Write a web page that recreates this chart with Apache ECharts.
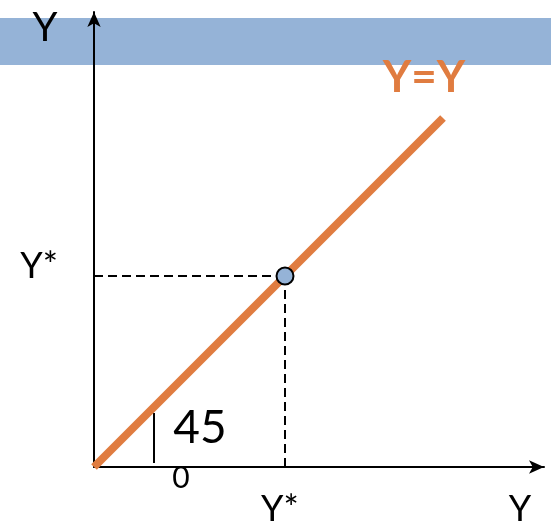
<!DOCTYPE html>
<html>
<head>
<meta charset="utf-8">
<script src="https://cdn.jsdelivr.net/npm/echarts@6/dist/echarts.min.js"></script>
<style>
  html, body { margin: 0; padding: 0; background: #ffffff; }
  #chart { width: 551px; height: 522px; }
</style>
</head>
<body>
<div id="chart"></div>
<script>
// ---- data ----
const axisTitle = 'Y';
const equilibriumLabel = 'Y*';
const lineLabel = 'Y=Y';
const angleText = '45';
const degreeText = '0';
const lineX = [0, 349];
const lineY = [0, 349];
const equilibriumX = [191];
const equilibriumY = [191];
const angleTickX = [60, 60];
const angleTickY = [4, 54];
const axisMaxX = [450];
const axisMaxY = [455];

const ORANGE = '#E07C40';
const BLUE = '#95B3D7';
const FONT = 'Lato, "Open Sans", sans-serif';

const chart = echarts.init(document.getElementById('chart'));

const linePoints = lineX.map((x, i) => [x, lineY[i]]);
const eqPoints = equilibriumX.map((x, i) => [x, equilibriumY[i]]);
const ex = equilibriumX[0], ey = equilibriumY[0];

chart.setOption({
  animation: false,
  backgroundColor: '#ffffff',
  graphic: [
    { type: 'rect', left: 0, top: 18, z: -10, silent: true,
      shape: { width: 551, height: 47 }, style: { fill: BLUE } }
  ],
  grid: { left: 94, right: 7, top: 12, bottom: 55, outerBoundsMode: 'none' },
  xAxis: {
    type: 'value', min: 0, max: axisMaxX[0], z: 2,
    name: axisTitle, nameLocation: 'end', nameGap: -24,
    nameTextStyle: { fontFamily: FONT, fontSize: 36, color: '#000', align: 'center', verticalAlign: 'top', padding: [24, 0, 0, 0] },
    axisLine: { show: true, onZero: false, symbol: ['none', 'arrow'], symbolSize: [10, 15], lineStyle: { color: '#000', width: 2 } },
    axisTick: { show: false },
    splitLine: { show: false },
    axisLabel: {
      show: true, customValues: equilibriumX, formatter: () => equilibriumLabel,
      fontFamily: FONT, fontSize: 36, color: '#000', margin: 0,
      verticalAlign: 'top', padding: [24, 10, 0, 0]
    }
  },
  yAxis: {
    type: 'value', min: 0, max: axisMaxY[0], z: 2,
    name: axisTitle, nameLocation: 'end', nameGap: -16,
    nameTextStyle: { fontFamily: FONT, fontSize: 40, color: '#000', align: 'center', verticalAlign: 'middle', padding: [0, 98, 0, 0] },
    axisLine: { show: true, onZero: false, symbol: ['none', 'arrow'], symbolSize: [10, 15], lineStyle: { color: '#000', width: 2 } },
    axisTick: { show: false },
    splitLine: { show: false },
    axisLabel: {
      show: true, customValues: equilibriumY, formatter: () => equilibriumLabel,
      fontFamily: FONT, fontSize: 36, color: '#000', margin: 36,
      verticalAlign: 'bottom', lineHeight: 20
    }
  },
  series: [
    {
      name: lineLabel, type: 'line', data: linePoints, z: 3, clip: false,
      symbol: 'none',
      lineStyle: { color: ORANGE, width: 8, cap: 'butt' }
    },
    {
      name: 'annotations', type: 'scatter', z: 6, clip: false, silent: true,
      symbol: 'circle', symbolSize: 0,
      itemStyle: { opacity: 1 },
      emphasis: { disabled: true },
      data: [
        { value: [330, 389], label: { show: true, formatter: lineLabel, color: ORANGE, opacity: 1, fontFamily: FONT, fontSize: 44, fontWeight: 'bold', position: 'inside' } },
        { value: [106, 39], label: { show: true, formatter: angleText, color: '#000', opacity: 1, fontFamily: FONT, fontSize: 46, position: 'inside' } },
        { value: [87, -11], label: { show: true, formatter: degreeText, color: '#000', opacity: 1, fontFamily: FONT, fontSize: 30, position: 'inside' } }
      ]
    },
    {
      name: equilibriumLabel, type: 'scatter', data: eqPoints, z: 5, clip: false,
      symbol: 'circle', symbolSize: 17,
      itemStyle: { color: BLUE, borderColor: '#000', borderWidth: 2, opacity: 1 },
      markLine: {
        silent: true, symbol: ['none', 'none'], z: 3,
        label: { show: false },
        lineStyle: { color: '#000', width: 2, type: [9, 5] },
        data: [
          [{ coord: [0, ey] }, { coord: [ex, ey] }],
          [{ coord: [ex, 0] }, { coord: [ex, ey] }],
          [{ coord: [angleTickX[0], angleTickY[0]], lineStyle: { type: 'solid', width: 2 } }, { coord: [angleTickX[1], angleTickY[1]] }]
        ]
      }
    }
  ]
});
</script>
</body>
</html>
